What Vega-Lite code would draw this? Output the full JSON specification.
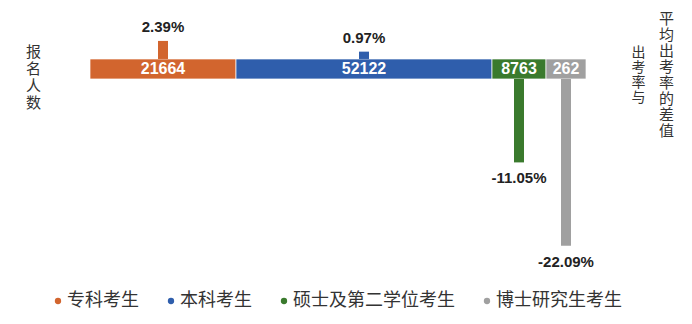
{
  "$schema": "https://vega.github.io/schema/vega-lite/v6.json",
  "width": 692,
  "height": 324,
  "padding": 0,
  "autosize": {"type": "none"},
  "background": "white",
  "config": {
    "view": {"stroke": null},
    "font": "Noto Sans CJK SC",
    "locale": {"number": {"decimal": ".", "thousands": ",", "grouping": [3], "currency": ["", ""], "minus": "-"}}
  },
  "data": {
    "values": [
      {"category": "专科考生", "rank": 1, "count": 21664, "diff": 0.0239},
      {"category": "本科考生", "rank": 2, "count": 52122, "diff": 0.0097},
      {"category": "硕士及第二学位考生", "rank": 3, "count": 8763, "diff": -0.1105},
      {"category": "博士研究生考生", "rank": 4, "count": 262, "diff": -0.2209}
    ]
  },
  "transform": [
    {"stack": "count", "groupby": [], "sort": [{"field": "rank", "order": "ascending"}], "as": ["x0", "x1"]}
  ],
  "layer": [
    {
      "mark": {"type": "rect", "y2Offset": 20, "stroke": "white", "strokeWidth": 1, "strokeOpacity": 0.7},
      "encoding": {
        "x": {"field": "x0", "type": "quantitative", "axis": null,
              "scale": {"domain": [0, 21664, 73786, 82549, 82811], "range": [90, 236, 492, 546, 586], "nice": false, "zero": false}},
        "x2": {"field": "x1"},
        "y": {"datum": 0, "type": "quantitative",
              "scale": {"domain": [-0.351, 0.0781], "nice": false, "zero": false},
              "axis": {"orient": "left", "title": ["报", "名", "人", "数"], "titleAngle": 0, "titleX": 33, "titleY": 51,
                       "titleAlign": "center", "titleBaseline": "middle", "titleLineHeight": 17, "titleFontSize": 15,
                       "titleFont": "Noto Sans CJK SC", "titleFontWeight": "normal", "titleColor": "#333333",
                       "labels": false, "ticks": false, "domain": false, "grid": false}},
        "y2": {"datum": 0},
        "color": {"field": "category", "type": "nominal",
                  "scale": {"domain": ["专科考生", "本科考生", "硕士及第二学位考生", "博士研究生考生"],
                            "range": ["#D2652E", "#2F5EAC", "#3A7A2D", "#A0A0A0"]},
                  "legend": {"orient": "none", "legendX": 49, "legendY": 292, "direction": "horizontal", "title": null,
                             "symbolType": "circle", "symbolSize": 40, "labelFontSize": 18, "labelFont": "Noto Sans CJK SC",
                             "labelColor": "#333333", "columnPadding": 23, "labelOffset": 0, "labelLimit": 400, "symbolStrokeWidth": 0}}
      }
    },
    {
      "transform": [
        {"fold": ["x0", "x1"], "as": ["edge", "pos"]},
        {"aggregate": [{"op": "mean", "field": "pos", "as": "mid"}], "groupby": ["category", "rank", "count", "diff"]}
      ],
      "mark": {"type": "text", "dy": 10, "baseline": "middle", "align": "center", "color": "white",
               "font": "Liberation Sans", "fontWeight": "bold", "fontSize": 16},
      "encoding": {
        "x": {"field": "mid", "type": "quantitative", "axis": null},
        "y": {"datum": 0, "type": "quantitative", "axis": null},
        "text": {"field": "count", "type": "quantitative", "format": "d"}
      }
    },
    {
      "transform": [
        {"filter": "datum.diff > 0"},
        {"fold": ["x0", "x1"], "as": ["edge", "pos"]},
        {"aggregate": [{"op": "mean", "field": "pos", "as": "mid"}], "groupby": ["category", "rank", "diff"]}
      ],
      "mark": {"type": "rule", "strokeWidth": 10},
      "encoding": {
        "x": {"field": "mid", "type": "quantitative", "axis": null},
        "y": {"field": "diff", "type": "quantitative",
              "axis": {"orient": "right", "title": ["出", "考", "率", "与"], "titleAngle": 0, "titleX": -54, "titleY": 52,
                       "titleAlign": "center", "titleBaseline": "middle", "titleLineHeight": 15, "titleFontSize": 14,
                       "titleFont": "Noto Sans CJK SC", "titleFontWeight": "normal", "titleColor": "#333333",
                       "labels": false, "ticks": false, "domain": false, "grid": false, "offset": 0}},
        "y2": {"datum": 0},
        "color": {"field": "category", "type": "nominal", "legend": null}
      }
    },
    {
      "transform": [
        {"filter": "datum.diff < 0"},
        {"fold": ["x0", "x1"], "as": ["edge", "pos"]},
        {"aggregate": [{"op": "mean", "field": "pos", "as": "mid"}], "groupby": ["category", "rank", "diff"]}
      ],
      "mark": {"type": "rule", "strokeWidth": 10, "yOffset": 20, "y2Offset": 20},
      "encoding": {
        "x": {"field": "mid", "type": "quantitative", "axis": null},
        "y": {"field": "diff", "type": "quantitative",
              "axis": {"orient": "right", "title": ["平", "均", "出", "考", "率", "的", "差", "值"], "titleAngle": 0, "titleX": -26, "titleY": 18,
                       "titleAlign": "center", "titleBaseline": "middle", "titleLineHeight": 16, "titleFontSize": 15,
                       "titleFont": "Noto Sans CJK SC", "titleFontWeight": "normal", "titleColor": "#333333",
                       "labels": false, "ticks": false, "domain": false, "grid": false, "offset": 0}},
        "y2": {"datum": 0},
        "color": {"field": "category", "type": "nominal", "legend": null}
      }
    },
    {
      "transform": [
        {"filter": "datum.diff > 0"},
        {"fold": ["x0", "x1"], "as": ["edge", "pos"]},
        {"aggregate": [{"op": "mean", "field": "pos", "as": "mid"}], "groupby": ["category", "rank", "diff"]}
      ],
      "mark": {"type": "text", "dy": -6, "baseline": "bottom", "align": "center", "color": "#222222",
               "font": "Liberation Sans", "fontWeight": "bold", "fontSize": 15},
      "encoding": {
        "x": {"field": "mid", "type": "quantitative", "axis": null},
        "y": {"field": "diff", "type": "quantitative", "axis": null},
        "text": {"field": "diff", "type": "quantitative", "format": ".2%"}
      }
    },
    {
      "transform": [
        {"filter": "datum.diff < 0"},
        {"fold": ["x0", "x1"], "as": ["edge", "pos"]},
        {"aggregate": [{"op": "mean", "field": "pos", "as": "mid"}], "groupby": ["category", "rank", "diff"]}
      ],
      "mark": {"type": "text", "dy": 36, "baseline": "middle", "align": "center", "color": "#222222",
               "font": "Liberation Sans", "fontWeight": "bold", "fontSize": 15},
      "encoding": {
        "x": {"field": "mid", "type": "quantitative", "axis": null},
        "y": {"field": "diff", "type": "quantitative", "axis": null},
        "text": {"field": "diff", "type": "quantitative", "format": ".2%"}
      }
    }
  ],
  "resolve": {"axis": {"y": "independent"}}
}
